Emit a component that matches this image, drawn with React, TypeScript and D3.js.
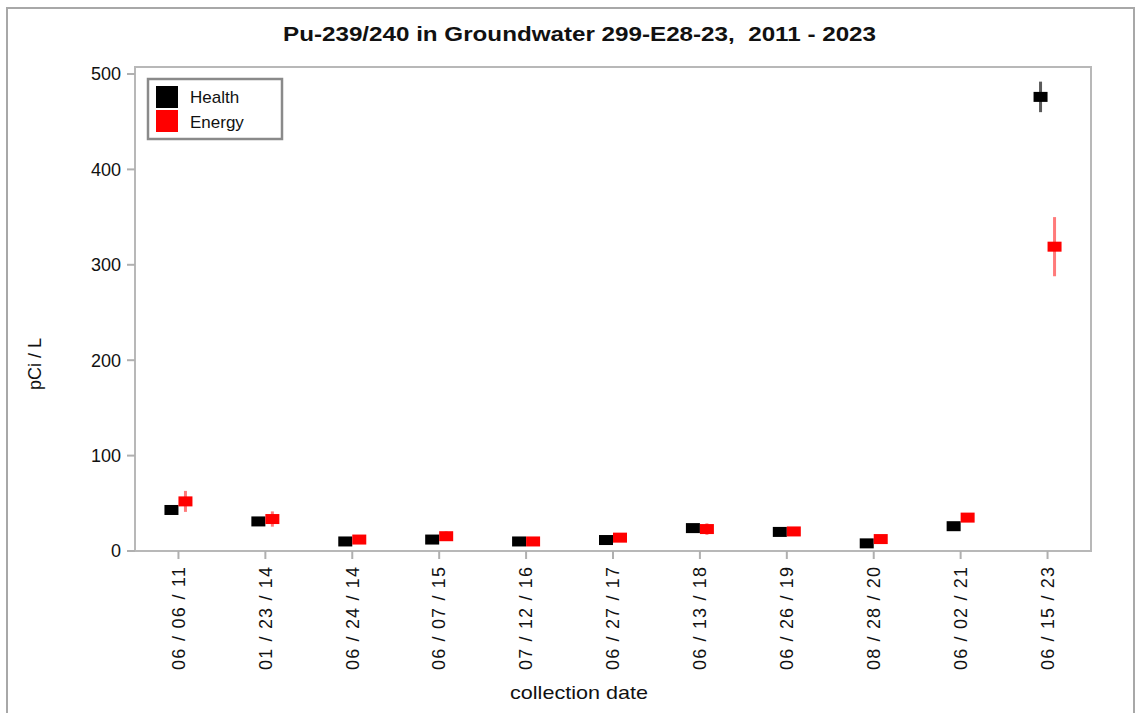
import React from "react";
import * as d3 from "d3";

const categories = ["06 / 06 / 11", "01 / 23 / 14", "06 / 24 / 14", "06 / 07 / 15", "07 / 12 / 16", "06 / 27 / 17", "06 / 13 / 18", "06 / 26 / 19", "08 / 28 / 20", "06 / 02 / 21", "06 / 15 / 23"];
const healthValues = [43, 31, 10, 12, 10, 11.5, 24, 20, 8, 26, 476];
const healthErrors = [3, 3, 3, 3, 3, 3, 3, 3, 3, 3, 16];
const energyValues = [52, 33.5, 12, 15.5, 10, 14, 23, 20.5, 12.5, 35, 319];
const energyErrors = [11, 8, 3, 5, 3, 3, 6, 3, 3, 4, 31];
const yTicks = [0, 100, 200, 300, 400, 500];
const seriesNames = ["Health", "Energy"];
const seriesColors = ["#000000", "#ff0000"];
const errorColors = ["#5a5a5a", "#ff7a7a"];

export default function App() {
  const W = 1139, H = 713;
  const left = 135, right = 1091, top = 67, bottom = 551;
  const x = d3.scaleBand<string>().domain(categories).range([left, right]).padding(0);
  const y = d3.scaleLinear().domain([0, 500]).range([551, 74]);
  const font = "'Liberation Sans', Arial, sans-serif";
  const series = [
    { vals: healthValues, errs: healthErrors, dx: -7 },
    { vals: energyValues, errs: energyErrors, dx: 7 },
  ];
  return (
    <svg width={W} height={H} style={{ position: "absolute", left: 0, top: 0, background: "#fff" }} fontFamily={font}>
      <rect x={0} y={0} width={W} height={H} fill="#fff" />
      <path d={`M7,${H} V8 H${W - 5} V${H}`} fill="none" stroke="#a8a8a8" strokeWidth={2} />
      <text x={283} y={41} fontSize={21} fontWeight="bold" fill="#111" textLength={593} lengthAdjust="spacingAndGlyphs">
        Pu-239/240 in Groundwater 299-E28-23,{"\u00a0\u00a0"}2011 - 2023
      </text>
      <rect x={left} y={top} width={right - left} height={bottom - top} fill="none" stroke="#b8b8b8" strokeWidth={2} />
      {yTicks.map((t) => (
        <g key={t}>
          <line x1={127} x2={left} y1={y(t)} y2={y(t)} stroke="#b0b0b0" strokeWidth={2} />
          <text x={121} y={y(t)} dy="0.35em" textAnchor="end" fontSize={18} fill="#111">{t}</text>
        </g>
      ))}
      {categories.map((c) => {
        const cx = (x(c) as number) + x.bandwidth() / 2;
        return (
          <g key={c}>
            <line x1={cx} x2={cx} y1={bottom} y2={559} stroke="#b0b0b0" strokeWidth={2} />
            <text transform={`translate(${cx},670) rotate(-90)`} dy="0.35em" fontSize={18} fill="#111" textLength={103} lengthAdjust="spacing">{c}</text>
          </g>
        );
      })}
      {series.map((s, si) => (
        <g key={si}>
          {categories.map((c, i) => {
            const cx = (x(c) as number) + x.bandwidth() / 2 + s.dx;
            return (
              <g key={c}>
                <line x1={cx} x2={cx} y1={y(s.vals[i] + s.errs[i])} y2={y(s.vals[i] - s.errs[i])} stroke={errorColors[si]} strokeWidth={3} />
                <rect x={cx - 7} y={y(s.vals[i]) - 5} width={14} height={10} fill={seriesColors[si]} />
              </g>
            );
          })}
        </g>
      ))}
      <text transform="translate(41,364) rotate(-90)" textAnchor="middle" fontSize={18} fill="#111">pCi / L</text>
      <text x={510} y={699} fontSize={19} fill="#111" textLength={138} lengthAdjust="spacingAndGlyphs">collection date</text>
      <g>
        <rect x={148} y={79} width={134} height={60} fill="#fff" stroke="#8a8a8a" strokeWidth={2.5} />
        {seriesNames.map((n, i) => (
          <g key={n}>
            <rect x={156} y={86 + i * 24} width={22} height={22} fill={seriesColors[i]} />
            <text x={190} y={97 + i * 25} dy="0.35em" fontSize={17} fill="#111">{n}</text>
          </g>
        ))}
      </g>
    </svg>
  );
}
